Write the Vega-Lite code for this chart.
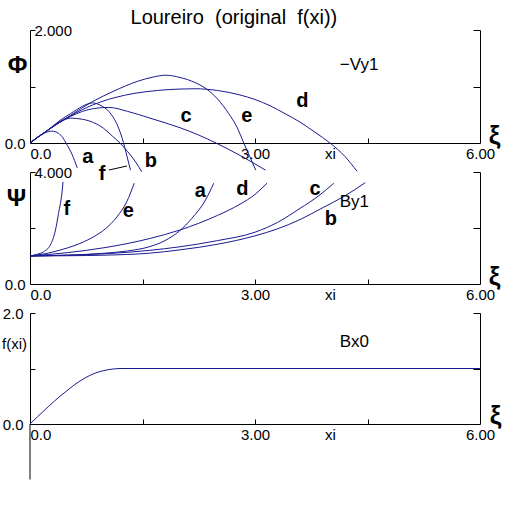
{
  "$schema": "https://vega.github.io/schema/vega-lite/v6.json",
  "padding": {"left": 1, "top": 8, "right": 5, "bottom": 5},
  "background": "white",
  "title": {"text": "Loureiro \u00a0(original \u00a0f(xi))", "anchor": "start", "fontSize": 20, "fontWeight": "normal", "font": "Liberation Sans", "color": "black", "dx": 129, "offset": -5},
  "config": {
    "view": {"stroke": null},
    "font": "Liberation Sans",
    "axis": {"domainColor": "black", "tickColor": "black", "labelColor": "black", "titleColor": "black", "labelFont": "Liberation Sans", "titleFont": "Liberation Sans", "labelFontSize": 15, "grid": false, "labelFlush": false, "labelOverlap": false, "domainWidth": 1, "tickWidth": 1}
  },
  "vconcat": [
    {
      "width": 450, "height": 113,
      "resolve": {"axis": {"x": "independent", "y": "independent"}},
      "layer": [
        {
          "data": {"values": [
            {"c":"a","x":0,"y":0},{"c":"a","x":0.1,"y":0.1},{"c":"a","x":0.2,"y":0.18},{"c":"a","x":0.29,"y":0.21},{"c":"a","x":0.38,"y":0.17},{"c":"a","x":0.44,"y":0.09},{"c":"a","x":0.48,"y":0},{"c":"a","x":0.56,"y":-0.2},{"c":"a","x":0.63,"y":-0.44},
            {"c":"b","x":0,"y":0},{"c":"b","x":0.1,"y":0.1},{"c":"b","x":0.23,"y":0.22},{"c":"b","x":0.4,"y":0.37},{"c":"b","x":0.54,"y":0.44},{"c":"b","x":0.7,"y":0.42},{"c":"b","x":0.85,"y":0.36},{"c":"b","x":0.98,"y":0.26},{"c":"b","x":1.1,"y":0.12},{"c":"b","x":1.2,"y":0},{"c":"b","x":1.3,"y":-0.15},{"c":"b","x":1.4,"y":-0.32},{"c":"b","x":1.49,"y":-0.51},
            {"c":"f","x":0,"y":0},{"c":"f","x":0.1,"y":0.1},{"c":"f","x":0.23,"y":0.22},{"c":"f","x":0.4,"y":0.4},{"c":"f","x":0.54,"y":0.52},{"c":"f","x":0.7,"y":0.65},{"c":"f","x":0.83,"y":0.71},{"c":"f","x":0.95,"y":0.66},{"c":"f","x":1.05,"y":0.56},{"c":"f","x":1.17,"y":0.3},{"c":"f","x":1.23,"y":0.08},{"c":"f","x":1.29,"y":-0.22},{"c":"f","x":1.34,"y":-0.48},
            {"c":"c","x":0,"y":0},{"c":"c","x":0.1,"y":0.1},{"c":"c","x":0.23,"y":0.22},{"c":"c","x":0.4,"y":0.38},{"c":"c","x":0.54,"y":0.47},{"c":"c","x":0.7,"y":0.56},{"c":"c","x":0.85,"y":0.61},{"c":"c","x":1.05,"y":0.63},{"c":"c","x":1.3,"y":0.56},{"c":"c","x":1.6,"y":0.44},{"c":"c","x":2.0,"y":0.27},{"c":"c","x":2.25,"y":0.14},{"c":"c","x":2.48,"y":0},{"c":"c","x":2.8,"y":-0.22},{"c":"c","x":3.14,"y":-0.48},
            {"c":"e","x":0,"y":0},{"c":"e","x":0.1,"y":0.1},{"c":"e","x":0.23,"y":0.22},{"c":"e","x":0.54,"y":0.49},{"c":"e","x":0.83,"y":0.73},{"c":"e","x":1.12,"y":0.92},{"c":"e","x":1.43,"y":1.09},{"c":"e","x":1.65,"y":1.17},{"c":"e","x":1.81,"y":1.2},{"c":"e","x":2.0,"y":1.16},{"c":"e","x":2.2,"y":1.07},{"c":"e","x":2.36,"y":0.95},{"c":"e","x":2.5,"y":0.78},{"c":"e","x":2.65,"y":0.52},{"c":"e","x":2.76,"y":0.28},{"c":"e","x":2.85,"y":0},{"c":"e","x":2.93,"y":-0.24},{"c":"e","x":3.01,"y":-0.48},
            {"c":"d","x":0,"y":0},{"c":"d","x":0.1,"y":0.1},{"c":"d","x":0.23,"y":0.22},{"c":"d","x":0.54,"y":0.48},{"c":"d","x":0.83,"y":0.67},{"c":"d","x":1.12,"y":0.8},{"c":"d","x":1.4,"y":0.88},{"c":"d","x":1.7,"y":0.93},{"c":"d","x":2.0,"y":0.955},{"c":"d","x":2.2,"y":0.96},{"c":"d","x":2.5,"y":0.93},{"c":"d","x":2.8,"y":0.85},{"c":"d","x":3.0,"y":0.77},{"c":"d","x":3.2,"y":0.66},{"c":"d","x":3.4,"y":0.52},{"c":"d","x":3.6,"y":0.37},{"c":"d","x":3.8,"y":0.19},{"c":"d","x":4.0,"y":0},{"c":"d","x":4.2,"y":-0.24},{"c":"d","x":4.36,"y":-0.5}
          ]},
          "mark": {"type": "line", "color": "#1a1a90", "strokeWidth": 1, "interpolate": "monotone", "clip": false},
          "encoding": {
            "x": {"field": "x", "type": "quantitative", "scale": {"domain": [0, 6], "nice": false, "zero": false},
              "axis": {"orient": "bottom", "values": [0, 3, 4, 6], "labelExpr": "datum.value == 0 ? '0.0' : datum.value == 3 ? '3.00' : datum.value == 4 ? 'xi' : '6.00'", "ticks": false, "labelPadding": 3, "labelAlign": {"condition": {"test": "datum.value == 0", "value": "left"}, "value": "center"}, "title": "ξ", "titleX": 464, "titleY": -8, "titleFontSize": 26, "titleFontWeight": "bold", "titleAlign": "center", "titleBaseline": "middle", "titleAngle": 0}},
            "y": {"field": "y", "type": "quantitative", "scale": {"domain": [0, 2], "nice": false, "zero": false},
              "axis": {"orient": "left", "values": [0], "labelExpr": "'0.0'", "ticks": false, "labelPadding": 5, "title": "Φ", "titleAngle": 0, "titleX": -13, "titleY": 35, "titleFontSize": 24, "titleFontWeight": "bold", "titleAlign": "center", "titleBaseline": "middle"}},
            "detail": {"field": "c"}
          }
        },
        {
          "data": {"values": [
            {"x":0.77,"y":-0.354,"t":"a"},{"x":1.61,"y":-0.425,"t":"b"},{"x":0.96,"y":-0.655,"t":"f"},{"x":2.08,"y":0.372,"t":"c"},{"x":2.89,"y":0.372,"t":"e"},{"x":3.63,"y":0.637,"t":"d"}
          ]},
          "mark": {"type": "text", "fontSize": 20, "fontWeight": "bold", "align": "center", "baseline": "alphabetic", "color": "black"},
          "encoding": {
            "x": {"field": "x", "type": "quantitative", "scale": {"domain": [0, 6], "nice": false, "zero": false},
              "axis": {"orient": "bottom", "values": [1.5, 3, 4.5], "labels": false, "domain": false, "tickSize": -5, "title": null}},
            "y": {"field": "y", "type": "quantitative", "scale": {"domain": [0, 2], "nice": false, "zero": false},
              "axis": {"orient": "left", "values": [1, 2], "labelExpr": "datum.value == 2 ? '2.000' : ''", "tickSize": -5, "labelPadding": 1, "labelAlign": "left", "labelBaseline": "middle", "domain": false, "title": null}},
            "text": {"field": "t"}
          }
        },
        {
          "data": {"values": [{"x": 1.053, "y": -0.478}, {"x": 1.293, "y": -0.407}]},
          "mark": {"type": "line", "color": "black", "strokeWidth": 1, "clip": false},
          "encoding": {
            "x": {"field": "x", "type": "quantitative", "scale": {"domain": [0, 6], "nice": false, "zero": false}, "axis": null},
            "y": {"field": "y", "type": "quantitative", "scale": {"domain": [0, 2], "nice": false, "zero": false}, "axis": null}
          }
        },
        {
          "data": {"values": [{"x": 4.13, "y": 1.29, "t": "−Vy1"}]},
          "mark": {"type": "text", "fontSize": 17, "align": "left", "baseline": "alphabetic", "color": "black"},
          "encoding": {
            "x": {"field": "x", "type": "quantitative", "scale": {"domain": [0, 6], "nice": false, "zero": false}, "axis": null},
            "y": {"field": "y", "type": "quantitative", "scale": {"domain": [0, 2], "nice": false, "zero": false},
              "axis": {"orient": "right", "values": [1, 2], "labels": false, "tickSize": -7, "domain": true, "title": null}},
            "text": {"field": "t"}
          }
        }
      ]
    },
    {
      "width": 450, "height": 112,
      "resolve": {"axis": {"x": "independent", "y": "independent"}},
      "layer": [
        {
          "data": {"values": [
            {"c":"f","x":0,"y":1},{"c":"f","x":0.09,"y":1.06},{"c":"f","x":0.18,"y":1.15},{"c":"f","x":0.27,"y":1.39},{"c":"f","x":0.34,"y":1.93},{"c":"f","x":0.38,"y":2.52},{"c":"f","x":0.43,"y":3.36},{"c":"f","x":0.44,"y":3.65},
            {"c":"e","x":0,"y":1},{"c":"e","x":0.2,"y":1.08},{"c":"e","x":0.4,"y":1.21},{"c":"e","x":0.6,"y":1.38},{"c":"e","x":0.85,"y":1.69},{"c":"e","x":1.0,"y":1.96},{"c":"e","x":1.16,"y":2.4},{"c":"e","x":1.29,"y":2.94},{"c":"e","x":1.39,"y":3.6},
            {"c":"a","x":0,"y":1},{"c":"a","x":0.5,"y":1.03},{"c":"a","x":1.0,"y":1.1},{"c":"a","x":1.3,"y":1.18},{"c":"a","x":1.59,"y":1.33},{"c":"a","x":1.8,"y":1.55},{"c":"a","x":1.99,"y":1.89},{"c":"a","x":2.16,"y":2.35},{"c":"a","x":2.34,"y":3.0},{"c":"a","x":2.45,"y":3.6},
            {"c":"d","x":0,"y":1},{"c":"d","x":0.5,"y":1.12},{"c":"d","x":1.0,"y":1.3},{"c":"d","x":1.59,"y":1.62},{"c":"d","x":2.0,"y":1.93},{"c":"d","x":2.5,"y":2.45},{"c":"d","x":2.8,"y":2.85},{"c":"d","x":3.0,"y":3.2},{"c":"d","x":3.16,"y":3.6},
            {"c":"c","x":0,"y":1},{"c":"c","x":0.5,"y":1.03},{"c":"c","x":1.0,"y":1.08},{"c":"c","x":1.59,"y":1.2},{"c":"c","x":2.0,"y":1.33},{"c":"c","x":2.5,"y":1.55},{"c":"c","x":3.0,"y":1.85},{"c":"c","x":3.3,"y":2.2},{"c":"c","x":3.6,"y":2.7},{"c":"c","x":3.85,"y":3.15},{"c":"c","x":4.05,"y":3.6},
            {"c":"b","x":0,"y":1},{"c":"b","x":0.5,"y":1.01},{"c":"b","x":1.0,"y":1.03},{"c":"b","x":1.59,"y":1.1},{"c":"b","x":2.0,"y":1.22},{"c":"b","x":2.5,"y":1.42},{"c":"b","x":3.0,"y":1.72},{"c":"b","x":3.3,"y":1.97},{"c":"b","x":3.6,"y":2.3},{"c":"b","x":3.9,"y":2.72},{"c":"b","x":4.2,"y":3.15},{"c":"b","x":4.47,"y":3.62}
          ]},
          "mark": {"type": "line", "color": "#1a1a90", "strokeWidth": 1, "interpolate": "monotone", "clip": false},
          "encoding": {
            "x": {"field": "x", "type": "quantitative", "scale": {"domain": [0, 6], "nice": false, "zero": false},
              "axis": {"orient": "bottom", "values": [0, 3, 4, 6], "labelExpr": "datum.value == 0 ? '0.0' : datum.value == 3 ? '3.00' : datum.value == 4 ? 'xi' : '6.00'", "ticks": false, "labelPadding": 3, "labelAlign": {"condition": {"test": "datum.value == 0", "value": "left"}, "value": "center"}, "title": "ξ", "titleX": 464, "titleY": -8, "titleFontSize": 26, "titleFontWeight": "bold", "titleAlign": "center", "titleBaseline": "middle", "titleAngle": 0}},
            "y": {"field": "y", "type": "quantitative", "scale": {"domain": [0, 4], "nice": false, "zero": false},
              "axis": {"orient": "left", "values": [0], "labelExpr": "'0.0'", "ticks": false, "labelPadding": 5, "title": "Ψ", "titleAngle": 0, "titleX": -14, "titleY": 26, "titleFontSize": 24, "titleFontWeight": "bold", "titleAlign": "center", "titleBaseline": "middle"}},
            "detail": {"field": "c"}
          }
        },
        {
          "data": {"values": [
            {"x":0.49,"y":2.46,"t":"f"},{"x":1.31,"y":2.39,"t":"e"},{"x":2.27,"y":3.11,"t":"a"},{"x":2.83,"y":3.18,"t":"d"},{"x":3.8,"y":3.18,"t":"c"},{"x":4.01,"y":2.11,"t":"b"}
          ]},
          "mark": {"type": "text", "fontSize": 20, "fontWeight": "bold", "align": "center", "baseline": "alphabetic", "color": "black"},
          "encoding": {
            "x": {"field": "x", "type": "quantitative", "scale": {"domain": [0, 6], "nice": false, "zero": false},
              "axis": {"orient": "bottom", "values": [1.5, 3, 4.5], "labels": false, "domain": false, "tickSize": -5, "title": null}},
            "y": {"field": "y", "type": "quantitative", "scale": {"domain": [0, 4], "nice": false, "zero": false},
              "axis": {"orient": "left", "values": [2, 4], "labelExpr": "datum.value == 4 ? '4.000' : ''", "tickSize": -5, "labelPadding": 1, "labelAlign": "left", "labelBaseline": "middle", "domain": false, "title": null}},
            "text": {"field": "t"}
          }
        },
        {
          "data": {"values": [{"x": 4.13, "y": 2.76, "t": "By1"}]},
          "mark": {"type": "text", "fontSize": 17, "align": "left", "baseline": "alphabetic", "color": "black"},
          "encoding": {
            "x": {"field": "x", "type": "quantitative", "scale": {"domain": [0, 6], "nice": false, "zero": false}, "axis": null},
            "y": {"field": "y", "type": "quantitative", "scale": {"domain": [0, 4], "nice": false, "zero": false},
              "axis": {"orient": "right", "values": [2, 4], "labels": false, "tickSize": -7, "domain": true, "title": null}},
            "text": {"field": "t"}
          }
        }
      ]
    },
    {
      "width": 450, "height": 111,
      "resolve": {"axis": {"x": "independent", "y": "independent"}},
      "layer": [
        {
          "data": {"values": [
            {"x":0,"y":0},{"x":0.1,"y":0.13},{"x":0.25,"y":0.32},{"x":0.4,"y":0.5},{"x":0.52,"y":0.63},{"x":0.65,"y":0.76},{"x":0.79,"y":0.87},{"x":0.92,"y":0.94},{"x":1.05,"y":0.98},{"x":1.2,"y":1.0},{"x":6,"y":1.0}
          ]},
          "mark": {"type": "line", "color": "#1a1a90", "strokeWidth": 1, "interpolate": "monotone", "clip": false},
          "encoding": {
            "x": {"field": "x", "type": "quantitative", "scale": {"domain": [0, 6], "nice": false, "zero": false},
              "axis": {"orient": "bottom", "values": [0, 3, 4, 6], "labelExpr": "datum.value == 0 ? '0.0' : datum.value == 3 ? '3.00' : datum.value == 4 ? 'xi' : '6.00'", "ticks": false, "labelPadding": 3, "labelAlign": {"condition": {"test": "datum.value == 0", "value": "left"}, "value": "center"}, "title": "ξ", "titleX": 465, "titleY": -9, "titleFontSize": 26, "titleFontWeight": "bold", "titleAlign": "center", "titleBaseline": "middle", "titleAngle": 0}},
            "y": {"field": "y", "type": "quantitative", "scale": {"domain": [0, 2], "nice": false, "zero": false},
              "axis": {"orient": "left", "values": [0, 2], "labelExpr": "datum.value == 0 ? '0.0' : '2.0'", "ticks": false, "labelPadding": 7, "title": "f(xi)", "titleAngle": 0, "titleX": -16, "titleY": 30, "titleFontSize": 15, "titleFontWeight": "normal", "titleAlign": "center", "titleBaseline": "middle"}}
          }
        },
        {
          "data": {"values": [{"x": 0, "y": -1, "y2": 0}]},
          "mark": {"type": "rule", "color": "black", "strokeWidth": 1, "clip": false},
          "encoding": {
            "x": {"field": "x", "type": "quantitative", "scale": {"domain": [0, 6], "nice": false, "zero": false},
              "axis": {"orient": "bottom", "values": [1.5, 3, 4.5], "labels": false, "domain": false, "tickSize": -5, "title": null}},
            "y": {"field": "y", "type": "quantitative", "scale": {"domain": [0, 2], "nice": false, "zero": false},
              "axis": {"orient": "left", "values": [1, 2], "labels": false, "tickSize": -5, "domain": false, "title": null}},
            "y2": {"field": "y2"}
          }
        },
        {
          "data": {"values": [{"x": 4.13, "y": 1.39, "t": "Bx0"}]},
          "mark": {"type": "text", "fontSize": 17, "align": "left", "baseline": "alphabetic", "color": "black"},
          "encoding": {
            "x": {"field": "x", "type": "quantitative", "scale": {"domain": [0, 6], "nice": false, "zero": false}, "axis": null},
            "y": {"field": "y", "type": "quantitative", "scale": {"domain": [0, 2], "nice": false, "zero": false},
              "axis": {"orient": "right", "values": [1, 2], "labels": false, "tickSize": -7, "domain": true, "title": null}},
            "text": {"field": "t"}
          }
        }
      ]
    }
  ],
  "spacing": 29,
  "bounds": "flush"
}
